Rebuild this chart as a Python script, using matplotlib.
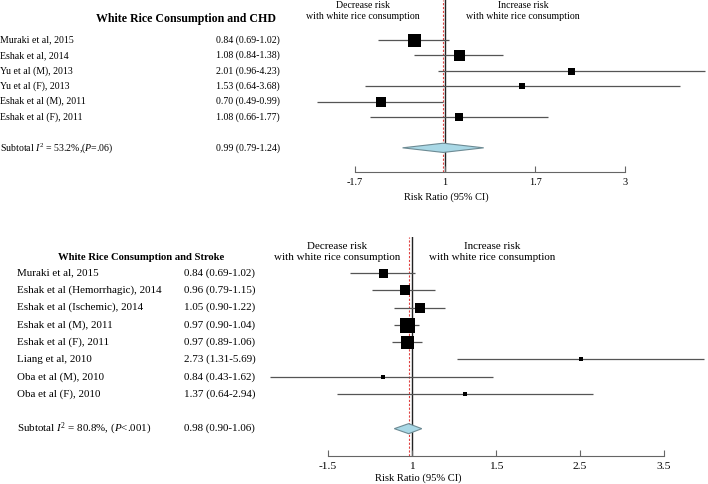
import numpy as np
import matplotlib
matplotlib.use("Agg")
import matplotlib.pyplot as plt
from matplotlib.transforms import blended_transform_factory
from matplotlib.patches import Polygon

plt.rcParams['font.family'] = ['Liberation Serif', 'DejaVu Serif']
plt.rcParams['mathtext.fontset'] = 'custom'
plt.rcParams['mathtext.rm'] = 'Liberation Serif'
plt.rcParams['mathtext.it'] = 'Liberation Serif:italic'

# ---------------- data ----------------
chd_studies = ["Muraki et al, 2015", "Eshak et al, 2014", "Yu et al (M), 2013",
               "Yu et al (F), 2013", "Eshak et al (M), 2011", "Eshak et al (F), 2011"]
chd_rr = [0.84, 1.08, 2.01, 1.53, 0.70, 1.08]
chd_lo = [0.69, 0.84, 0.96, 0.64, 0.49, 0.66]
chd_hi = [1.02, 1.38, 4.23, 3.68, 0.99, 1.77]
chd_weight = [13, 11, 7, 6.5, 10, 8]
chd_sub = (0.99, 0.79, 1.24)
chd_sub_label = r"Subtotal $I^2$ = 53.2%,($P$=.06)"
chd_ticklabels = ["-1.7", "1", "1.7", "3"]

stk_studies = ["Muraki et al, 2015", "Eshak et al (Hemorrhagic), 2014",
               "Eshak et al (Ischemic), 2014", "Eshak et al (M), 2011",
               "Eshak et al (F), 2011", "Liang et al, 2010",
               "Oba et al (M), 2010", "Oba et al (F), 2010"]
stk_rr = [0.84, 0.96, 1.05, 0.97, 0.97, 2.73, 0.84, 1.37]
stk_lo = [0.69, 0.79, 0.90, 0.90, 0.89, 1.31, 0.43, 0.64]
stk_hi = [1.02, 1.15, 1.22, 1.04, 1.06, 5.69, 1.62, 2.94]
stk_weight = [9, 9.5, 10, 15, 13, 5, 5, 5]
stk_sub = (0.98, 0.90, 1.06)
stk_sub_label = r"Subtotal $I^2$ = 80.8%, ($P$<.001)"
stk_ticklabels = ["-1.5", "1", "1.5", "2.5", "3.5"]

# ---------------- figure ----------------
W, H = 708, 484
fig = plt.figure(figsize=(W / 100, H / 100), dpi=100)


def fpos(x0, y0, x1, y1):
    return [x0 / W, 1 - y1 / H, (x1 - x0) / W, (y1 - y0) / H]


def ftext(x, y, s, **kw):
    kw.setdefault('va', 'center')
    fig.text(x / W, 1 - y / H, s, **kw)


def fmt(r, l, h):
    return f"{r:.2f} ({l:.2f}-{h:.2f})"


def panel(rect, px_per_ln, one_px, x0, x1, ylim, studies, rr, lo, hi, wt, sub,
          sub_row, sub_label, ticklabels, name_x, val_x, fs, dh, vtop):
    ax = fig.add_axes(rect)
    ln_left = (x0 - one_px) / px_per_ln
    ln_right = (x1 - one_px) / px_per_ln
    ax.set_xscale('log')
    ax.set_xlim(np.exp(ln_left), np.exp(ln_right))
    ax.set_ylim(*ylim)
    rows = np.arange(len(studies))
    ax.hlines(rows, lo, hi, color='#555555', lw=0.9, zorder=2)
    for r, x, w in zip(rows, rr, wt):
        ax.plot(x, r, marker='s', color='black', ms=w * 0.72, zorder=3, mew=0)
    est, slo, shi = sub
    diamond = Polygon([[slo, sub_row], [est, sub_row - dh], [shi, sub_row],
                       [est, sub_row + dh]], closed=True, facecolor='#a9d8e6',
                      edgecolor='#6d8b94', lw=0.8, zorder=3)
    ax.add_patch(diamond)
    ax.axvline(1, ymin=0, ymax=vtop, color='#222222', lw=1.0, zorder=1)
    ax.axvline(est, ymin=0, ymax=vtop, color='#e04040', lw=0.8, ls=(0, (2, 1.5)), zorder=1)
    ticks = np.exp(0.5 * np.arange(-1, len(ticklabels) - 1))
    ax.set_xticks(ticks)
    ax.set_xticklabels(ticklabels)
    ax.minorticks_off()
    ax.set_xticks([], minor=True)
    for s in ['top', 'right', 'left']:
        ax.spines[s].set_visible(False)
    ax.spines['bottom'].set_bounds(ticks[0], ticks[-1])
    ax.spines['bottom'].set_color('#666666')
    ax.tick_params(axis='x', direction='in', length=4, color='#666666',
                   labelsize=fs + 0.3, pad=4)
    ax.set_yticks([])
    tr = blended_transform_factory(fig.transFigure, ax.transData)
    for r, s, a, l, h in zip(rows, studies, rr, lo, hi):
        ax.text(name_x / W, r, s, transform=tr, ha='left', va='center', fontsize=fs)
        ax.text(val_x / W, r, fmt(a, l, h), transform=tr, ha='left', va='center', fontsize=fs)
    ax.text(name_x / W, sub_row, sub_label, transform=tr, ha='left', va='center', fontsize=fs)
    ax.text(val_x / W, sub_row, fmt(*sub), transform=tr, ha='left', va='center', fontsize=fs)
    return ax


# top panel (CHD)
panel(fpos(300, 0, 708, 172), 180, 445, 300, 708, (8.57, -2.6),
      chd_studies, chd_rr, chd_lo, chd_hi, chd_weight, chd_sub, 7, chd_sub_label,
      chd_ticklabels, 0, 216, 7.1, 0.3, 1.0)
ftext(186, 19, "White Rice Consumption and CHD", ha='center', fontsize=8.6, fontweight='bold')
ftext(363, 11, "Decrease risk\nwith white rice consumption", ha='center', fontsize=7.1, linespacing=1.15)
ftext(523, 11, "Increase risk\nwith white rice consumption", ha='center', fontsize=7.1, linespacing=1.15)
ftext(446, 197, "Risk Ratio (95% CI)", ha='center', fontsize=7.4)

# bottom panel (Stroke)
panel(fpos(260, 237, 708, 456), 168, 412, 260, 708, (10.58, -2.08),
      stk_studies, stk_rr, stk_lo, stk_hi, stk_weight, stk_sub, 9, stk_sub_label,
      stk_ticklabels, 17, 184, 7.9, 0.29, 1.0)
ftext(141, 257, "White Rice Consumption and Stroke", ha='center', fontsize=7.7, fontweight='bold')
ftext(337, 252, "Decrease risk\nwith white rice consumption", ha='center', fontsize=7.9, linespacing=1.15)
ftext(492, 252, "Increase risk\nwith white rice consumption", ha='center', fontsize=7.9, linespacing=1.15)
ftext(418, 478, "Risk Ratio (95% CI)", ha='center', fontsize=7.6)

fig.savefig("out.png", dpi=100, facecolor='white')
